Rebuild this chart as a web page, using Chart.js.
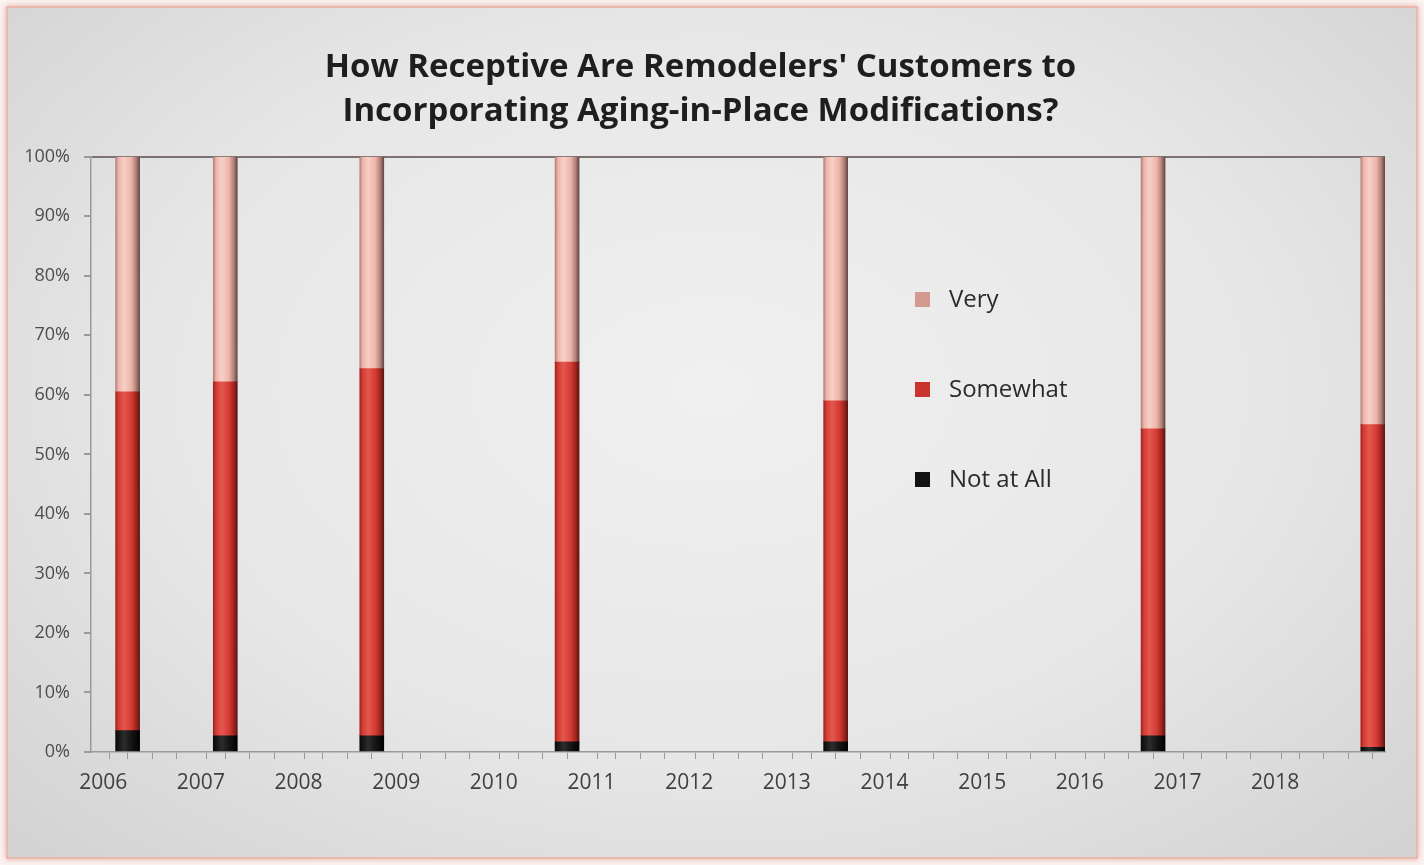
<!DOCTYPE html>
<html>
<head>
<meta charset="utf-8">
<script src="https://cdn.jsdelivr.net/npm/chart.js@4.4.0/dist/chart.umd.min.js"></script>
<style>
  html, body { margin: 0; padding: 0; background: #fbf4f2; }
  #frame {
    position: absolute; left: 6px; top: 6px; width: 1408px; height: 849px;
    border: 2px solid #e9b9b0;
    box-shadow: 0 0 6px rgba(214, 140, 128, 0.7);
    background: radial-gradient(ellipse at 50% 45%, #f0f0f0 0%, #e7e7e8 55%, #d2d2d3 100%);
  }
  #wrap { position: absolute; left: 0; top: 0; width: 1424px; height: 865px; }
</style>
</head>
<body>
<div id="frame"></div>
<div id="wrap"><canvas id="grafico" width="1424" height="865"></canvas></div>
<script>
// Dados da pesquisa (posição no eixo do tempo em anos)
const anos = [2006.25, 2007.25, 2008.75, 2010.75, 2013.5, 2016.75, 2019.0];
const notAtAll = [3.6, 2.7, 2.7, 1.7, 1.7, 2.7, 0.8];
const somewhat = [56.9, 59.5, 61.7, 63.8, 57.3, 51.6, 54.2];
const very = [39.5, 37.8, 35.6, 34.5, 41.0, 45.7, 45.0];
const rotulosAnos = [2006, 2007, 2008, 2009, 2010, 2011, 2012, 2013, 2014, 2015, 2016, 2017, 2018];

// cores: [base, claro, escuro, borda]
const coresNot = ['#151515', '#2c2c2c', '#0a0a0a', '#000000'];
const coresSome = ['#d33c34', '#e4574d', '#a3241f', '#5a1713'];
const coresVery = ['#eeb4a9', '#f7d0c7', '#b08279', '#644843'];

function preencher(c) {
  return function (context) {
    const chart = context.chart;
    if (!chart.chartArea || context.type !== 'data') return c[0];
    const cx = chart.scales.x.getPixelForValue(context.parsed.x);
    const g = chart.ctx.createLinearGradient(cx - 12, 0, cx + 12, 0);
    g.addColorStop(0, c[2]);
    g.addColorStop(0.12, c[0]);
    g.addColorStop(0.35, c[1]);
    g.addColorStop(0.65, c[0]);
    g.addColorStop(0.85, c[2]);
    g.addColorStop(1, c[3]);
    return g;
  };
}

function serie(valores) {
  return anos.map((x, i) => ({ x: x, y: valores[i] }));
}

// Legenda desenhada dentro da área do gráfico
const legendaInterna = {
  id: 'legendaInterna',
  afterDatasetsDraw(chart) {
    const ctx = chart.ctx;
    const itens = chart.data.datasets.slice().reverse();
    ctx.save();
    itens.forEach((ds, i) => {
      const y = 300 + i * 90;
      ctx.fillStyle = ds.corLegenda;
      ctx.fillRect(915, y - 8, 15, 15);
      ctx.fillStyle = '#2b2b2b';
      ctx.font = '24px "Open Sans"';
      ctx.textBaseline = 'middle';
      ctx.fillText(ds.label, 949, y);
    });
    ctx.restore();
  }
};

// Ticks trimestrais + rótulos dos anos
const ticksX = [];
for (let k = 0; k <= 53; k++) ticksX.push({ value: 2005.875 + k * 0.25 });
rotulosAnos.forEach(a => ticksX.push({ value: a }));
ticksX.sort((a, b) => a.value - b.value);

const ctx = document.getElementById('grafico').getContext('2d');
const grafico = new Chart(ctx, {
  type: 'bar',
  data: {
    datasets: [
      { label: 'Not at All', data: serie(notAtAll), backgroundColor: preencher(coresNot), corLegenda: '#111', barThickness: 24 },
      { label: 'Somewhat', data: serie(somewhat), backgroundColor: preencher(coresSome), corLegenda: '#c9352e', barThickness: 24 },
      { label: 'Very', data: serie(very), backgroundColor: preencher(coresVery), corLegenda: '#d49a90', barThickness: 24 }
    ]
  },
  options: {
    responsive: false,
    animation: false,
    layout: { padding: { left: 16, right: 39, top: 46, bottom: 63 } },
    plugins: {
      legend: { display: false },
      tooltip: { enabled: false },
      title: {
        display: true,
        text: ["How Receptive Are Remodelers' Customers to", 'Incorporating Aging-in-Place Modifications?'],
        color: '#1e1e1e',
        font: { family: '"Open Sans"', size: 33, weight: 'bold', lineHeight: 1.33 },
        padding: { top: 0, bottom: 23 }
      }
    },
    scales: {
      x: {
        type: 'linear',
        stacked: true,
        offset: false,
        min: 2005.875,
        max: 2019.125,
        afterBuildTicks(scale) { scale.ticks = ticksX.map(t => ({ value: t.value })); },
        afterFit(scale) { scale.height = 50; },
        grid: {
          drawOnChartArea: false,
          tickLength: 7,
          tickColor: c => (c.tick && Number.isInteger(c.tick.value)) ? 'transparent' : '#9a9a9a'
        },
        border: { color: '#9a9a9a', width: 1.5 },
        ticks: {
          autoSkip: false,
          maxRotation: 0,
          padding: 11,
          color: '#404040',
          font: { family: '"Open Sans"', size: 21 },
          callback: v => Number.isInteger(v) ? String(v) : ''
        }
      },
      y: {
        stacked: true,
        min: 0,
        max: 100,
        afterFit(scale) { scale.width = 75; },
        grid: {
          tickLength: 7,
          tickColor: '#9a9a9a',
          color: c => (c.tick && c.tick.value === 100) ? '#7e7171' : 'transparent',
          lineWidth: 2
        },
        border: { color: '#9a9a9a', width: 1.5 },
        ticks: {
          stepSize: 10,
          padding: 14,
          color: '#4d4d4d',
          font: { family: '"Open Sans"', size: 18 },
          callback: v => v + '%'
        }
      }
    }
  },
  plugins: [legendaInterna]
});
</script>
</body>
</html>
